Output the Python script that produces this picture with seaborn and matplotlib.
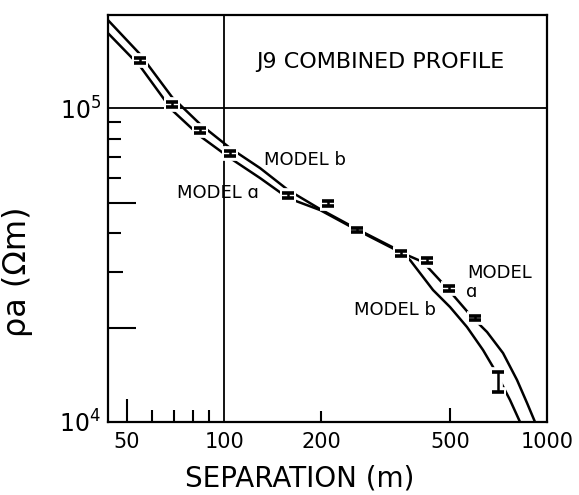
import matplotlib
matplotlib.use("Agg")
import matplotlib.pyplot as plt
import matplotlib.ticker as mticker
import pandas as pd
import seaborn as sns

# observed apparent resistivity, J9 combined profile
sep_obs = [54.9, 69.0, 84.3, 104.4, 157.9, 209.9, 258.0, 353.2, 425.2, 497.4, 598.5, 705.0]
rho_obs = [1.422e5, 1.03e5, 8.51e4, 7.16e4, 5.28e4, 4.98e4, 4.09e4, 3.45e4, 3.26e4, 2.67e4, 2.145e4, 1.343e4]
err_lo_frac = [0.018, 0.018, 0.018, 0.018, 0.018, 0.018, 0.018, 0.018, 0.018, 0.018, 0.018, 0.070]
err_hi_frac = [0.018, 0.018, 0.018, 0.018, 0.018, 0.018, 0.018, 0.018, 0.018, 0.018, 0.018, 0.077]

# model curves
sep_a = [43.7, 54.9, 69.0, 84.3, 104.4, 129.3, 157.9, 198.3, 258.0, 350.6, 413.2, 490.2, 586.0, 652.2, 730.9, 807.6, 867.6, 918.1]
rho_a = [1.733e5, 1.361e5, 9.854e4, 8.14e4, 6.93e4, 5.985e4, 5.168e4, 4.734e4, 4.088e4, 3.479e4, 3.233e4, 2.672e4, 2.159e4, 1.935e4, 1.658e4, 1.361e4, 1.149e4, 1.0e4]
sep_b = [43.7, 54.9, 69.0, 84.3, 104.4, 129.3, 157.9, 198.3, 258.0, 350.6, 376.6, 443.7, 500.9, 565.3, 633.9, 680.7, 768.3, 825.1]
rho_b = [1.907e5, 1.486e5, 1.084e5, 8.89e4, 7.458e4, 6.439e4, 5.481e4, 4.768e4, 4.118e4, 3.505e4, 3.281e4, 2.633e4, 2.324e4, 2.007e4, 1.695e4, 1.497e4, 1.175e4, 1.0e4]

x_ticks = [50, 100, 200, 500, 1000]
x_labels = ["50", "100", "200", "500", "1000"]
y_ticks = [1e4, 1e5]
y_labels = ["$10^4$", "$10^5$"]

sns.set_style("white")
plt.rcParams['font.family'] = ['DejaVu Sans']
plt.rcParams['mathtext.default'] = 'regular'
plt.rcParams['text.color'] = 'black'
plt.rcParams['axes.labelcolor'] = 'black'
plt.rcParams['xtick.color'] = 'black'
plt.rcParams['ytick.color'] = 'black'

models = pd.concat([
    pd.DataFrame({"sep": sep_a, "rho": rho_a, "model": "a"}),
    pd.DataFrame({"sep": sep_b, "rho": rho_b, "model": "b"}),
])

fig = plt.figure(figsize=(5.79, 4.95), dpi=100)
ax = fig.add_axes([0.1865, 0.1475, 0.7582, 0.8222])

sns.lineplot(data=models, x="sep", y="rho", hue="model", units="model", estimator=None,
             palette={"a": "black", "b": "black"}, sort=False, legend=False,
             linewidth=1.8, ax=ax, zorder=3)

ax.set_xscale("log")
ax.set_yscale("log")
ax.set_xlim(43.7, 1000)
ax.set_ylim(1e4, 1.98e5)

# error bars with a white halo so the curves break around them
lo = [r * f for r, f in zip(rho_obs, err_lo_frac)]
hi = [r * f for r, f in zip(rho_obs, err_hi_frac)]
ax.errorbar(sep_obs, rho_obs, yerr=[lo, hi], fmt="none", ecolor="white",
            elinewidth=7, capsize=6, capthick=7, zorder=4)
ax.errorbar(sep_obs, rho_obs, yerr=[lo, hi], fmt="none", ecolor="black",
            elinewidth=1.8, capsize=4.5, capthick=2.6, zorder=5)

ax.axvline(100, color="black", lw=1.3, zorder=2)
ax.axhline(1e5, color="black", lw=1.3, zorder=2)

for s in ax.spines.values():
    s.set_linewidth(1.6)
    s.set_color("black")

# x ticks
ax.xaxis.set_major_locator(mticker.FixedLocator(x_ticks))
ax.xaxis.set_major_formatter(mticker.FixedFormatter(x_labels))
ax.xaxis.set_minor_locator(mticker.FixedLocator([60, 70, 80, 90]))
ax.xaxis.set_minor_formatter(mticker.NullFormatter())
ax.tick_params(axis="x", which="both", direction="in", width=1.5, labelsize=15,
               pad=7, top=False, bottom=True)
ax.tick_params(axis="x", which="minor", length=8.5)
for t, ln in zip(ax.xaxis.get_major_ticks(), [16.5, 0, 8, 10, 0]):
    t.tick1line.set_markersize(ln)

# y ticks
ax.yaxis.set_major_locator(mticker.FixedLocator(y_ticks))
ax.yaxis.set_major_formatter(mticker.FixedFormatter(y_labels))
ax.yaxis.set_minor_locator(mticker.FixedLocator([2e4, 3e4, 4e4, 5e4, 6e4, 7e4, 8e4, 9e4]))
ax.yaxis.set_minor_formatter(mticker.NullFormatter())
ax.tick_params(axis="y", which="both", direction="in", width=1.5, labelsize=17,
               pad=5, left=True, right=False)
ax.tick_params(axis="y", which="major", length=0)
for t, ln in zip(ax.yaxis.get_minor_ticks(), [20, 10.5, 9.5, 20, 9.5, 9.5, 9.5, 9.5]):
    t.tick1line.set_markersize(ln)

ax.set_xlabel("SEPARATION (m)", fontsize=20)
ax.xaxis.set_label_coords(0.437, -0.105)
ax.set_ylabel("ρa (Ωm)", fontsize=23)
ax.yaxis.set_label_coords(-0.17, 0.37)

ax.text(0.62, 0.885, "J9 COMBINED PROFILE", transform=ax.transAxes,
        ha="center", va="center", fontsize=16)
ax.text(0.449, 0.644, "MODEL b", transform=ax.transAxes, ha="center", va="center", fontsize=13)
ax.text(0.2506, 0.5627, "MODEL ɑ", transform=ax.transAxes, ha="center", va="center", fontsize=13)
ax.text(0.893, 0.366, "MODEL", transform=ax.transAxes, ha="center", va="center", fontsize=13)
ax.text(0.829, 0.319, "ɑ", transform=ax.transAxes, ha="center", va="center", fontsize=13)
ax.text(0.654, 0.275, "MODEL b", transform=ax.transAxes, ha="center", va="center", fontsize=13)

fig.savefig("out.png", dpi=100)
